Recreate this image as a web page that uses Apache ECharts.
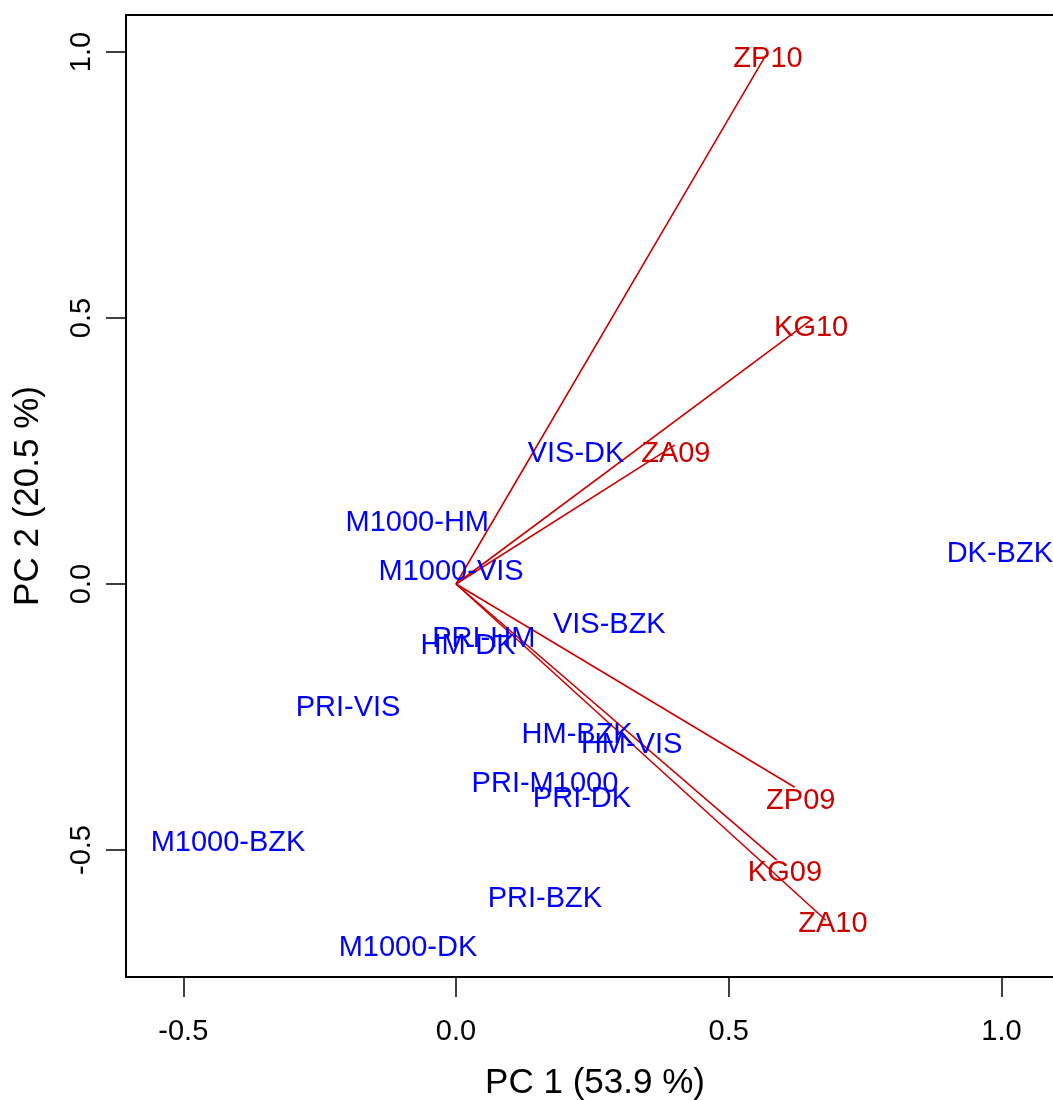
<!DOCTYPE html>
<html>
<head>
<meta charset="utf-8">
<script src="https://cdn.jsdelivr.net/npm/echarts@6/dist/echarts.min.js"></script>
<style>
html,body{margin:0;padding:0;background:#fff;overflow:hidden;}
#chart{width:1080px;height:1100px;}
</style>
</head>
<body>
<div id="chart"></div>
<script>
// Observation scores (blue labels)
const obsNames = ['VIS-DK','M1000-HM','M1000-VIS','DK-BZK','VIS-BZK','PRI-HM','HM-DK','PRI-VIS','HM-BZK','HM-VIS','PRI-M1000','PRI-DK','M1000-BZK','PRI-BZK','M1000-DK'];
const obsPC1 = [0.220, -0.071, -0.009, 0.997, 0.281, 0.051, 0.022, -0.198, 0.222, 0.322, 0.163, 0.231, -0.418, 0.163, -0.088];
const obsPC2 = [0.248, 0.118, 0.026, 0.060, -0.073, -0.100, -0.113, -0.229, -0.280, -0.299, -0.372, -0.400, -0.483, -0.588, -0.680];

// Variable loadings (red arrows): arrow tips
const varNames = ['ZP10','KG10','ZA09','ZP09','KG09','ZA10'];
const varPC1 = [0.568, 0.653, 0.401, 0.621, 0.588, 0.678];
const varPC2 = [0.994, 0.498, 0.261, -0.382, -0.519, -0.632];
// Variable label positions
const varLabelPC1 = [0.572, 0.651, 0.403, 0.632, 0.603, 0.691];
const varLabelPC2 = [0.990, 0.485, 0.248, -0.404, -0.539, -0.635];

// Axis ticks
const xTicks = [-0.5, 0.0, 0.5, 1.0];
const yTicks = [-0.5, 0.0, 0.5, 1.0];
const xTitle = 'PC 1 (53.9 %)';
const yTitle = 'PC 2 (20.5 %)';

const FONT = '"Liberation Sans", Arial, Helvetica, sans-serif';
const BLUE = '#0000FF';
const RED = '#CD0000';

const chart = echarts.init(document.getElementById('chart'), null, {renderer: 'canvas', width: 1080, height: 1100});

const obsData = obsNames.map((n, i) => ({name: n, value: [obsPC1[i], obsPC2[i]]}));
const varData = varNames.map((n, i) => ({name: n, value: [varPC1[i], varPC2[i], varLabelPC1[i], varLabelPC2[i]]}));

const option = {
  animation: false,
  backgroundColor: '#ffffff',
  grid: {
    left: 126, top: 15, width: 938, height: 962,
    outerBoundsMode: 'none', containLabel: false,
    show: true, borderColor: '#000', borderWidth: 2, backgroundColor: 'transparent'
  },
  xAxis: {
    type: 'value', min: -0.605, max: 1.1146,
    splitLine: {show: false},
    axisLine: {show: true, onZero: false, lineStyle: {color: '#000', width: 2}},
    axisTick: {show: true, customValues: xTicks, length: 20, lineStyle: {color: '#000', width: 1.5}},
    axisLabel: {show: true, customValues: xTicks, formatter: v => v.toFixed(1), fontSize: 29, fontFamily: FONT, color: '#000', margin: 40},
    name: xTitle, nameLocation: 'middle', nameGap: 89,
    nameTextStyle: {fontSize: 35, fontFamily: FONT, color: '#000'}
  },
  yAxis: {
    type: 'value', min: -0.7387, max: 1.0695,
    splitLine: {show: false},
    axisLine: {show: true, onZero: false, lineStyle: {color: '#000', width: 2}},
    axisTick: {show: true, customValues: yTicks, length: 20, lineStyle: {color: '#000', width: 1.5}},
    axisLabel: {show: true, customValues: yTicks, formatter: v => v.toFixed(1), fontSize: 29, fontFamily: FONT, color: '#000', margin: 30, rotate: 90},
    name: yTitle, nameLocation: 'middle', nameGap: 80,
    nameTextStyle: {fontSize: 35, fontFamily: FONT, color: '#000'}
  },
  series: [
    {
      type: 'custom',
      coordinateSystem: 'cartesian2d',
      clip: false,
      data: varData,
      encode: {x: [0, 2], y: [1, 3]},
      renderItem: function (params, api) {
        const o = api.coord([0, 0]);
        const p = api.coord([api.value(0), api.value(1)]);
        const l = api.coord([api.value(2), api.value(3)]);
        return {
          type: 'group',
          children: [
            {type: 'line', shape: {x1: o[0], y1: o[1], x2: p[0], y2: p[1]}, style: {stroke: RED, lineWidth: 1.6}},
            {type: 'text', x: l[0], y: l[1] + 2, style: {text: varNames[params.dataIndex], fill: RED, font: '29px ' + FONT, textAlign: 'center', textVerticalAlign: 'middle'}}
          ]
        };
      },
      z: 2
    },
    {
      type: 'custom',
      coordinateSystem: 'cartesian2d',
      clip: false,
      data: obsData,
      renderItem: function (params, api) {
        const p = api.coord([api.value(0), api.value(1)]);
        return {type: 'text', x: p[0], y: p[1] + 2, style: {text: obsNames[params.dataIndex], fill: BLUE, font: '29px ' + FONT, textAlign: 'center', textVerticalAlign: 'middle'}};
      },
      z: 3
    }
  ]
};
chart.setOption(option);
</script>
</body>
</html>
